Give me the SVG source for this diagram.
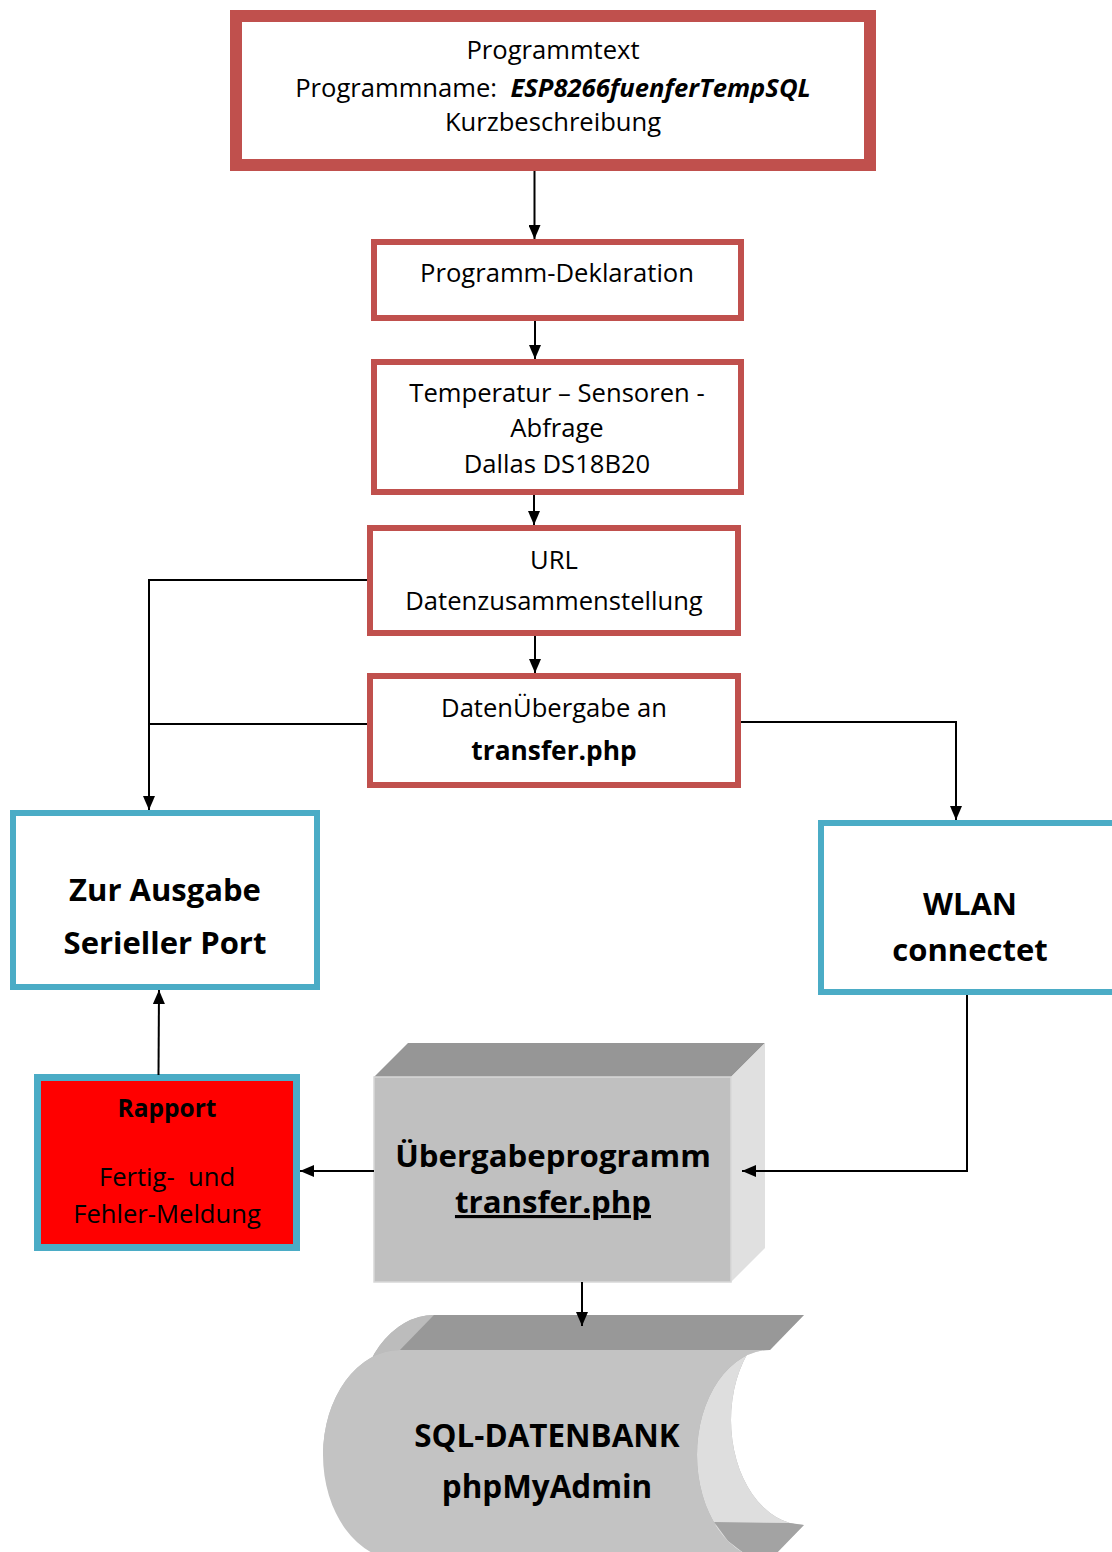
<svg xmlns="http://www.w3.org/2000/svg" width="1112" height="1552" viewBox="0 0 1112 1552">
<style>
text{font-family:"Open Sans",Lato,"Liberation Sans",sans-serif;fill:#000;text-anchor:middle}
.n{font-size:25.6px}
.b{font-weight:bold}
.red{fill:#fff;stroke:#c0504d}
.blue{fill:#fff;stroke:#4bacc6}
.c{fill:none;stroke:#000;stroke-width:2}
</style>
<defs>
<marker id="ah" viewBox="0 0 14 12" refX="14" refY="6" markerWidth="14" markerHeight="12" markerUnits="userSpaceOnUse" orient="auto">
<path d="M0,0 L14,6 L0,12 Z" fill="#000"/>
</marker>
</defs>

<g id="node-programmtext">
<rect class="red" x="236" y="16" width="634" height="149" stroke-width="12"/>
<text class="n" x="553" y="59">Programmtext</text>
<text class="n" x="553" y="97" style="white-space:pre">Programmname:  <tspan class="b" font-style="italic">ESP8266fuenferTempSQL</tspan></text>
<text class="n" x="553" y="131">Kurzbeschreibung</text>
</g>

<g id="node-deklaration">
<rect class="red" x="374" y="242" width="367" height="76" stroke-width="6"/>
<text class="n" x="557" y="282">Programm-Deklaration</text>
</g>

<g id="node-temperatur">
<rect class="red" x="374" y="362" width="367" height="130" stroke-width="6"/>
<text class="n" x="557" y="402">Temperatur – Sensoren -</text>
<text class="n" x="557" y="437">Abfrage</text>
<text class="n" x="557" y="473">Dallas DS18B20</text>
</g>

<g id="node-url">
<rect class="red" x="370" y="528" width="368" height="105" stroke-width="6"/>
<text class="n" x="554" y="569">URL</text>
<text class="n" x="554" y="610">Datenzusammenstellung</text>
</g>

<g id="node-datenuebergabe">
<rect class="red" x="370" y="676" width="368" height="109" stroke-width="6"/>
<text class="n" x="554" y="717">DatenÜbergabe an</text>
<text class="b" x="554" y="760" font-size="26.3">transfer.php</text>
</g>

<g id="node-ausgabe">
<rect class="blue" x="13" y="813" width="304" height="174" stroke-width="6"/>
<text class="b" x="165" y="901" font-size="31">Zur Ausgabe</text>
<text class="b" x="165" y="954" font-size="31">Serieller Port</text>
</g>

<g id="node-wlan">
<rect class="blue" x="821" y="823" width="300" height="169" stroke-width="6"/>
<text class="b" x="970" y="915" font-size="31">WLAN</text>
<text class="b" x="970" y="961" font-size="31">connectet</text>
</g>

<g id="node-rapport">
<rect x="37.5" y="1077.5" width="259" height="170" fill="#ff0000" stroke="#4bacc6" stroke-width="7"/>
<text class="b" x="167" y="1117" font-size="24.5">Rapport</text>
<text class="n" x="167" y="1186" style="white-space:pre">Fertig-  und</text>
<text class="n" x="167" y="1223">Fehler-Meldung</text>
</g>

<g id="node-uebergabeprogramm">
<polygon points="374,1077 408,1043 765,1043 731,1077" fill="#969696"/>
<polygon points="731,1077 765,1043 765,1248 731,1282" fill="#e0e0e0"/>
<rect x="374" y="1077" width="357" height="205" fill="#c0c0c0" stroke="#d8d8d8" stroke-width="1.5"/>
<text class="b" x="553" y="1167" font-size="31.2">Übergabeprogramm</text>
<text class="b" x="553" y="1213" font-size="31.2" text-decoration="underline">transfer.php</text>
</g>

<g id="node-datenbank">
<path d="M434 1315 L804 1315 A73 105 0 0 0 804 1525 L434 1525 A77 105 0 0 1 434 1315 Z" fill="#b4b4b4"/>
<path d="M400 1350 A77 105 0 0 0 323 1455 L357 1420 A77 105 0 0 1 434 1315 Z" fill="#bcbcbc"/>
<path d="M770 1350 A73 105 0 0 0 770 1560 L804 1525 A73 105 0 0 1 804 1315 Z" fill="#dedede"/>
<polygon points="714,1522 728,1541 745,1554 770,1560 804,1525 790,1523" fill="#a3a3a3"/>
<polygon points="400,1350 770,1350 804,1315 434,1315" fill="#989898"/>
<path d="M400 1350 L770 1350 A73 105 0 0 0 770 1560 L400 1560 A77 105 0 0 1 400 1350 Z" fill="#c3c3c3"/>
<text class="b" x="547" y="1447" font-size="31.4">SQL-DATENBANK</text>
<text class="b" x="547" y="1498" font-size="31.4">phpMyAdmin</text>
</g>

<g id="connectors">
<line class="c" x1="534.5" y1="171" x2="534.5" y2="239" marker-end="url(#ah)"/>
<line class="c" x1="535" y1="321" x2="535" y2="359" marker-end="url(#ah)"/>
<line class="c" x1="534" y1="495" x2="534" y2="525" marker-end="url(#ah)"/>
<line class="c" x1="535" y1="636" x2="535" y2="673" marker-end="url(#ah)"/>
<polyline class="c" points="367,580 149,580 149,810" marker-end="url(#ah)"/>
<line class="c" x1="367" y1="724" x2="149" y2="724"/>
<polyline class="c" points="741,722 956,722 956,820" marker-end="url(#ah)"/>
<polyline class="c" points="967,995 967,1171 742,1171" marker-end="url(#ah)"/>
<line class="c" x1="374" y1="1171" x2="300" y2="1171" marker-end="url(#ah)"/>
<line class="c" x1="158.5" y1="1075" x2="159" y2="990" marker-end="url(#ah)"/>
<line class="c" x1="582" y1="1282" x2="582" y2="1326" marker-end="url(#ah)"/>
</g>
</svg>
